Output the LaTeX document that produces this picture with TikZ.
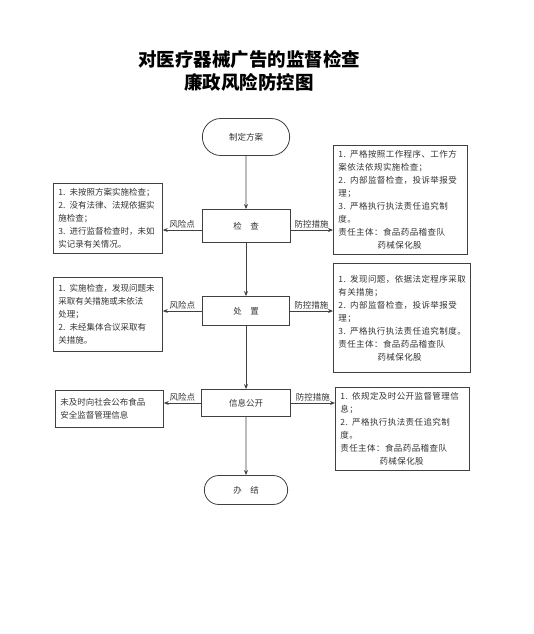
\documentclass[tikz,border=0pt]{standalone}
\usepackage{fontspec}
\setmainfont{Noto Sans CJK SC}
\usepackage{tikz}
\usetikzlibrary{arrows.meta,positioning,shapes.misc}

\begin{document}
\begin{tikzpicture}[
		x=1pt, y=-1pt,
		font=\fontsize{8.5}{13}\selectfont,
		text=black!80,
		term/.style={
			rounded rectangle,
			draw=black!75,
			thick,
			minimum width=90pt,
			minimum height=29pt
		},
		block/.style={
			rectangle,
			draw=black!75,
			thick,
			minimum height=29pt
		},
		note/.style={
			rectangle,
			draw=black!75,
			thick,
			anchor=north west,
			align=left,
			inner sep=5pt
		},
		wide/.style={font=\fontsize{8.5}{13}\selectfont\addfontfeature{LetterSpace=5}},
		lbl/.style={font=\fontsize{8.5}{10}\selectfont, above, inner sep=1pt},
		arrow/.style={-{Stealth[length=5pt,width=4pt]}, thick, draw=black!75}
		]
		\useasboundingbox (0,0) rectangle (534,634);
		\node[align=center, font=\fontsize{18.5}{23}\selectfont\bfseries, text=black] (title) at (249,71) {对医疗器械广告的监督检查\\廉政风险防控图};

		% main line
		\node[term, minimum width=94pt, minimum height=37pt] (plan) at (246,137) {制定方案};
		\node[block, minimum width=88pt, minimum height=33pt] (chk) at (246,226) {检\quad 查};
		\node[block, minimum width=87pt] (dsp) at (246,311) {处\quad 置};
		\node[block, minimum width=89pt, minimum height=27pt] (pub) at (246,403) {信息公开};
		\node[term] (fin) at (246,490) {办\quad 结};

		% risks
		\node[note, text width=99pt, minimum height=69pt] (risk1) at (53,183) {1. 未按照方案实施检查；\\2. 没有法律、法规依据实\\施检查；\\3. 进行监督检查时，未如\\实记录有关情况。};
		\node[note, text width=99pt, minimum height=74pt] (risk2) at (53,277) {1. 实施检查，发现问题未\\采取有关措施或未依法\\处理；\\2. 未经集体合议采取有\\关措施。};
		\node[note, text width=98pt, minimum height=37pt] (risk3) at (55,390) {未及时向社会公布食品\\安全监督管理信息};

		% measures
		\node[note, wide, text width=124pt, minimum height=108pt] (ctl1) at (333,145) {1. 严格按照工作程序、工作方\\案依法依规实施检查；\\2. 内部监督检查，投诉举报受\\理；\\3. 严格执行执法责任追究制\\度。\\责任主体：食品药品稽查队\\\hspace{4.6em}药械保化股};
		\node[note, wide, text width=127pt, minimum height=109pt] (ctl2) at (333,263) {1. 发现问题，依据法定程序采取\\有关措施；\\2. 内部监督检查，投诉举报受\\理；\\3. 严格执行执法责任追究制度。\\责任主体：食品药品稽查队\\\hspace{4.6em}药械保化股};
		\node[note, wide, text width=124pt, minimum height=79pt] (ctl3) at (335,387) {1. 依规定及时公开监督管理信\\息；\\2. 严格执行执法责任追究制\\度。\\责任主体：食品药品稽查队\\\hspace{4.6em}药械保化股};

		\draw[arrow] (plan) -- (chk);
		\draw[arrow] (chk) -- (dsp);
		\draw[arrow] (dsp) -- (pub);
		\draw[arrow] (pub) -- (fin);

		\draw[arrow] ([yshift=-4pt]chk.west) -- ([yshift=-4pt]chk.west -| risk1.east) node[lbl, midway] {风险点};
		\draw[arrow] ([yshift=-4pt]chk.east) -- ([yshift=-4pt]chk.east -| ctl1.west) node[lbl, midway] {防控措施};
		\draw[arrow] (dsp.west) -- (dsp.west -| risk2.east) node[lbl, midway] {风险点};
		\draw[arrow] (dsp.east) -- (dsp.east -| ctl2.west) node[lbl, midway] {防控措施};
		\draw[arrow] (pub.west) -- (pub.west -| risk3.east) node[lbl, midway] {风险点};
		\draw[arrow] (pub.east) -- (pub.east -| ctl3.west) node[lbl, midway] {防控措施};
	\end{tikzpicture}
\end{document}
